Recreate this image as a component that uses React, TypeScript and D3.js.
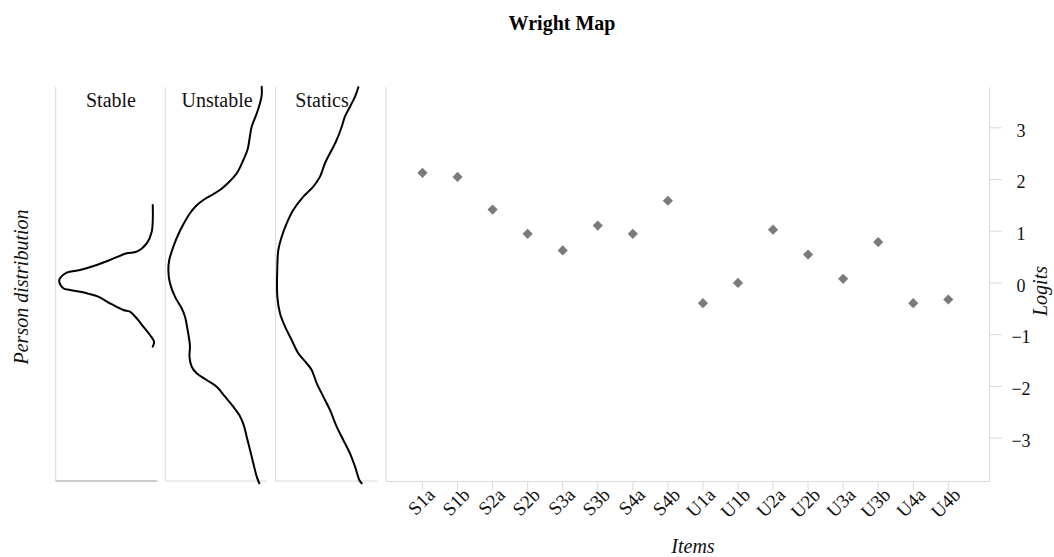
import React from "react";
import * as d3 from "d3";

// ---------- data ----------
const items = ["S1a", "S1b", "S2a", "S2b", "S3a", "S3b", "S4a", "S4b", "U1a", "U1b", "U2a", "U2b", "U3a", "U3b", "U4a", "U4b"];
const itemLogits = [2.13, 2.05, 1.42, 0.95, 0.63, 1.11, 0.95, 1.59, -0.39, 0.0, 1.03, 0.55, 0.08, 0.79, -0.39, -0.32];
const logitTicks = [-3, -2, -1, 0, 1, 2, 3];
const groupNames = ["Stable", "Unstable", "Statics"];

// person distributions: logit positions and relative density
const stableLogit = [1.508, 0.992, 0.767, 0.605, 0.574, 0.444, 0.348, 0.251, 0.199, 0.091, 0.025, -0.103, -0.136, -0.2, -0.265, -0.393, -0.523, -0.555, -0.683, -0.845, -1.006, -1.136, -1.232];
const stableDensity = [0.045, 0.055, 0.104, 0.203, 0.301, 0.466, 0.596, 0.761, 0.892, 0.958, 0.965, 0.925, 0.859, 0.695, 0.581, 0.466, 0.335, 0.269, 0.203, 0.138, 0.072, 0.032, 0.045];

const unstableLogit = [3.796, 3.635, 3.475, 3.281, 3.022, 2.798, 2.58, 2.378, 2.121, 1.933, 1.798, 1.682, 1.605, 1.489, 1.348, 1.121, 0.928, 0.701, 0.444, 0.251, -0.006, -0.265, -0.49, -0.652, -0.846, -1.103, -1.232, -1.426, -1.62, -1.747, -1.876, -2.006, -2.2, -2.393, -2.56, -2.75, -2.973, -3.23, -3.487, -3.746, -3.874];
const unstableDensity = [0.051, 0.051, 0.068, 0.1, 0.15, 0.17, 0.19, 0.232, 0.297, 0.383, 0.462, 0.56, 0.626, 0.698, 0.757, 0.826, 0.875, 0.921, 0.961, 0.97, 0.954, 0.905, 0.839, 0.806, 0.786, 0.764, 0.757, 0.762, 0.74, 0.691, 0.593, 0.494, 0.412, 0.331, 0.27, 0.228, 0.199, 0.166, 0.134, 0.1, 0.075];

const staticsLogit = [3.784, 3.602, 3.409, 3.216, 3.022, 2.765, 2.572, 2.315, 2.056, 1.862, 1.669, 1.411, 1.154, 0.895, 0.638, 0.315, -0.265, -0.586, -0.846, -1.103, -1.36, -1.553, -1.683, -1.94, -2.199, -2.456, -2.779, -3.037, -3.294, -3.553, -3.81, -3.874];
const staticsDensity = [0.187, 0.219, 0.269, 0.319, 0.35, 0.4, 0.449, 0.515, 0.564, 0.63, 0.728, 0.827, 0.892, 0.941, 0.974, 0.984, 0.984, 0.958, 0.908, 0.843, 0.778, 0.695, 0.646, 0.596, 0.531, 0.466, 0.4, 0.335, 0.269, 0.219, 0.177, 0.154];

const distLogits = [stableLogit, unstableLogit, staticsLogit];
const distDensities = [stableDensity, unstableDensity, staticsDensity];

// ---------- layout ----------
const W = 1054;
const H = 557;
const TOP = 87;
const BOTTOM = 481;
const panelLefts = [55.7, 165.3, 275.7];
const panelWidth = 101.6;
const labelDx = [4.5, 1, -4.5];
const itemLeft = 386;
const itemRight = 989.7;
const FONT = "'Liberation Serif', 'Times New Roman', Times, serif";
const GRID = "#d9d9d9";

const diamond = {
  draw(context: any, size: number) {
    const r = Math.sqrt(size / 2);
    context.moveTo(0, -r);
    context.lineTo(r, 0);
    context.lineTo(0, r);
    context.lineTo(-r, 0);
    context.closePath();
  },
};

export default function App() {
  const y = d3.scaleLinear().domain([-3.83, 3.79]).range([BOTTOM, TOP]);
  const x = d3.scalePoint<string>().domain(items).range([422.5, 948.3]);
  const symbolPath = d3.symbol().type(diamond as any).size(52)() as string;

  return (
    <svg
      width={W}
      height={H}
      style={{ position: "absolute", left: 0, top: 0, background: "#fff" }}
      fontFamily={FONT}
    >
      <text x={562} y={30} textAnchor="middle" fontWeight="bold" fontSize={20} fill="#000">
        Wright Map
      </text>

      {/* Person distribution panels */}
      {groupNames.map((name, i) => {
        const left = panelLefts[i];
        const right = left + panelWidth;
        const xd = d3.scaleLinear().domain([0, 1]).range([right, left]);
        const pts: [number, number][] = distLogits[i].map((v, k) => [v, distDensities[i][k]]);
        const line = d3
          .line<[number, number]>()
          .x((d) => xd(d[1]))
          .y((d) => y(d[0]))
          .curve(d3.curveCatmullRom.alpha(0.5));
        return (
          <g key={name}>
            <line x1={left} x2={left} y1={TOP} y2={BOTTOM} stroke={GRID} strokeWidth={1} />
            <line x1={left} x2={right} y1={BOTTOM} y2={BOTTOM} stroke={i === 0 ? "#9a9a9a" : GRID} strokeWidth={1} />
            <text x={(left + right) / 2 + labelDx[i]} y={107} textAnchor="middle" fontSize={20} fill="#111">
              {name}
            </text>
            <path d={line(pts) || ""} fill="none" stroke="#000" strokeWidth={2} strokeLinejoin="round" strokeLinecap="round" />
          </g>
        );
      })}

      <text transform={`translate(28,287) rotate(-90)`} textAnchor="middle" fontSize={20} fontStyle="italic" fill="#111">
        Person distribution
      </text>

      {/* Items panel */}
      <line x1={itemLeft} x2={itemLeft} y1={TOP} y2={BOTTOM} stroke={GRID} />
      <line x1={itemLeft} x2={itemRight} y1={BOTTOM + 0.5} y2={BOTTOM + 0.5} stroke={GRID} />
      <line x1={itemRight} x2={itemRight} y1={TOP} y2={BOTTOM} stroke={GRID} />

      {logitTicks.map((t) => (
        <g key={t} transform={`translate(0,${y(t)})`}>
          <line x1={itemRight} x2={itemRight + 12} y1={0} y2={0} stroke={GRID} />
          <text x={1021} dy="0.32em" y={3} textAnchor="middle" fontSize={18} fill="#111">
            {t < 0 ? "\u2212" + Math.abs(t) : String(t)}
          </text>
        </g>
      ))}
      <text transform={`translate(1047,291) rotate(-90)`} textAnchor="middle" fontSize={20} fontStyle="italic" fill="#111">
        Logits
      </text>

      {items.map((it) => {
        const xi = x(it) as number;
        return (
          <g key={it}>
            <line x1={xi} x2={xi} y1={BOTTOM + 1} y2={BOTTOM + 9} stroke={GRID} />
            <text transform={`translate(${xi + 13.5},496) rotate(-45)`} textAnchor="end" fontSize={19} fill="#111">
              {it}
            </text>
          </g>
        );
      })}

      {items.map((it, i) => (
        <path key={"p" + it} d={symbolPath} transform={`translate(${x(it)},${y(itemLogits[i])})`} fill="#7b7b7b" />
      ))}

      <text x={693} y={553} textAnchor="middle" fontSize={20} fontStyle="italic" fill="#111">
        Items
      </text>
    </svg>
  );
}
